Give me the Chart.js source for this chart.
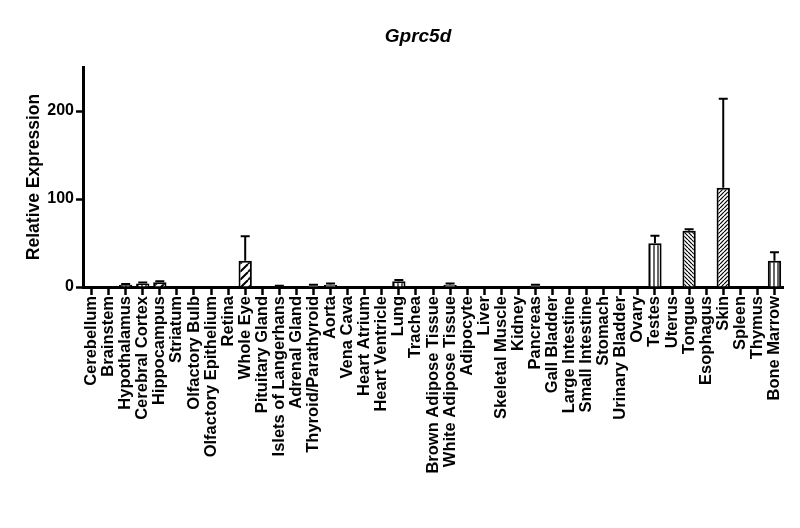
<!DOCTYPE html>
<html>
<head>
<meta charset="utf-8">
<script src="https://cdn.jsdelivr.net/npm/chart.js@4"></script>
<style>
  html, body { margin: 0; padding: 0; background: #fff; }
  #wrap { width: 800px; height: 528px; }
</style>
</head>
<body>
<div id="wrap"><canvas id="meuChart"></canvas></div>
<script>
const tissues = [
    "Cerebellum", "Brainstem", "Hypothalamus", "Cerebral Cortex", "Hippocampus",
    "Striatum", "Olfactory Bulb", "Olfactory Epithelium", "Retina", "Whole Eye",
    "Pituitary Gland", "Islets of Langerhans", "Adrenal Gland", "Thyroid/Parathyroid", "Aorta",
    "Vena Cava", "Heart Atrium", "Heart Ventricle", "Lung", "Trachea",
    "Brown Adipose Tissue", "White Adipose Tissue", "Adipocyte", "Liver", "Skeletal Muscle",
    "Kidney", "Pancreas", "Gall Bladder", "Large Intestine", "Small Intestine",
    "Stomach", "Urinary Bladder", "Ovary", "Testes", "Uterus",
    "Tongue", "Esophagus", "Skin", "Spleen", "Thymus",
    "Bone Marrow"
];
const expression = [
    0, 0, 2.5, 4, 5.5,
    0, 0, 0, 0, 29.9,
    0, 1, 0, 1.5, 2.5,
    0, 0, 0, 6.5, 0,
    0, 2.5, 0, 0, 0,
    0, 1.5, 0, 0, 0,
    0, 0, 0, 49.7, 0,
    63.9, 0, 112.8, 0, 0,
    29.9
];
const sem = [
    0, 0, 1, 1, 1,
    0, 0, 0, 0, 27.7,
    0, 0.5, 0, 1, 1.5,
    0, 0, 0, 1.5, 0,
    0, 1.5, 0, 0, 0,
    0, 1, 0, 0, 0,
    0, 0, 0, 8.6, 0,
    1.6, 0, 101, 0, 0,
    9.5
];
const yTicks = [0, 100, 200];
const chartTitle = "Gprc5d";

// fill style per bar (Prism-like hatches)
const fills = {
    2: "vert", 3: "vert", 4: "fwd", 9: "fwd", 18: "vert",
    33: "vert", 35: "back", 37: "fwdDense", 40: "vert"
};

function makePattern(kind) {
    const c = document.createElement("canvas");
    const s = kind === "fwd" ? 8 : 4;
    c.width = s; c.height = s;
    const g = c.getContext("2d");
    g.fillStyle = "#fff";
    g.fillRect(0, 0, s, s);
    g.strokeStyle = "#000";
    g.lineWidth = kind === "fwd" ? 2 : 1.2;
    g.beginPath();
    if (kind === "vert") {
        g.moveTo(s / 2, 0); g.lineTo(s / 2, s);
    } else if (kind === "back") {
        g.moveTo(0, 0); g.lineTo(s, s);
        g.moveTo(-s, 0); g.lineTo(0, s);
        g.moveTo(s, 0); g.lineTo(2 * s, s);
    } else {
        g.moveTo(0, s); g.lineTo(s, 0);
        g.moveTo(-s, s); g.lineTo(0, 0);
        g.moveTo(s, s); g.lineTo(2 * s, 0);
    }
    g.stroke();
    return g.createPattern(c, "repeat");
}

const bgColors = tissues.map((t, i) => {
    const k = fills[i];
    return k ? makePattern(k) : "#fff";
});

const errorBars = {
    id: "errorBars",
    afterDatasetsDraw(chart) {
        const ctx = chart.ctx;
        const y = chart.scales.y;
        const meta = chart.getDatasetMeta(0);
        ctx.save();
        ctx.strokeStyle = "#000";
        ctx.lineWidth = 2;
        meta.data.forEach((bar, i) => {
            if (!sem[i]) return;
            const top = y.getPixelForValue(expression[i]);
            const end = y.getPixelForValue(expression[i] + sem[i]);
            ctx.beginPath();
            ctx.moveTo(bar.x, top);
            ctx.lineTo(bar.x, end);
            ctx.moveTo(bar.x - 4.5, end);
            ctx.lineTo(bar.x + 4.5, end);
            ctx.stroke();
        });
        ctx.restore();
    }
};

// title sits a bit left of the plot centre, as in the original figure
const titlePlugin = {
    id: "titlePlugin",
    afterDraw(chart) {
        const ctx = chart.ctx;
        const area = chart.chartArea;
        ctx.save();
        ctx.fillStyle = "#000";
        ctx.font = "italic bold 19px 'Liberation Sans'";
        ctx.textAlign = "center";
        ctx.textBaseline = "middle";
        ctx.fillText(chartTitle, (area.left + area.right) / 2 - 15, area.top - 30);
        ctx.restore();
    }
};

const meuChart = document.querySelector("#meuChart");

new Chart(meuChart, {
    type: "bar",
    data: {
        labels: tissues,
        datasets: [
            {
                label: chartTitle,
                data: expression,
                backgroundColor: bgColors,
                borderColor: "#000",
                borderWidth: 2,
                barPercentage: 0.78,
                categoryPercentage: 1,
            },
        ],
    },
    options: {
        responsive: true,
        maintainAspectRatio: false,
        animation: false,
        layout: {
            padding: { left: 24, right: 17, top: 67, bottom: 0 }
        },
        plugins: {
            legend: { display: false },
            tooltip: { enabled: false },
            title: { display: false }
        },
        scales: {
            x: {
                grid: {
                    offset: false,
                    drawOnChartArea: false,
                    tickLength: 8,
                    tickWidth: 2.5,
                    tickColor: "#000"
                },
                border: { color: "#000", width: 3 },
                ticks: {
                    color: "#000",
                    autoSkip: false,
                    maxRotation: 90,
                    minRotation: 90,
                    padding: 1,
                    font: { family: "Liberation Sans", size: 16.5, weight: "bold" }
                },
                afterFit(scale) { scale.height = 241; }
            },
            y: {
                min: 0,
                max: 250,
                grid: {
                    drawOnChartArea: false,
                    tickLength: 7,
                    tickWidth: 2.5,
                    tickColor: "#000"
                },
                border: { color: "#000", width: 3 },
                ticks: {
                    color: "#000",
                    stepSize: 100,
                    padding: 2,
                    font: { family: "Liberation Sans", size: 16, weight: "bold" }
                },
                afterBuildTicks(scale) {
                    scale.ticks = yTicks.map(v => ({ value: v }));
                },
                title: {
                    display: true,
                    text: "Relative Expression",
                    color: "#000",
                    padding: 0,
                    font: { family: "Liberation Sans", size: 17.5, weight: "bold" }
                },
                afterFit(scale) { scale.width = 59; }
            }
        }
    },
    plugins: [errorBars, titlePlugin]
});
</script>
</body>
</html>
